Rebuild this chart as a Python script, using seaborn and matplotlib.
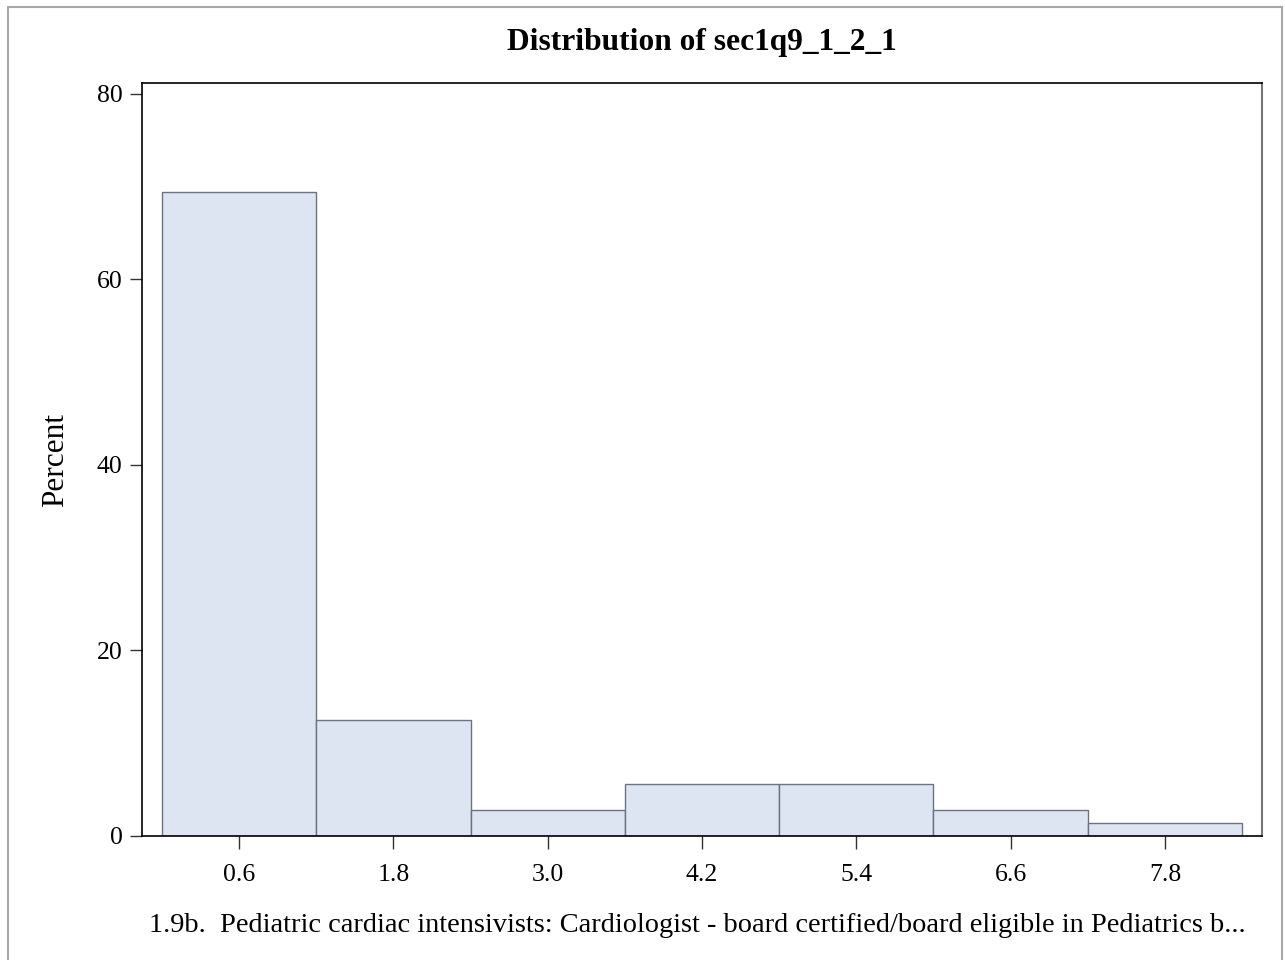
import numpy as np
import pandas as pd
import seaborn as sns
import matplotlib.pyplot as plt
from matplotlib.patches import Rectangle

# histogram (percent of respondents per bin)
bin_centers = [0.6, 1.8, 3.0, 4.2, 5.4, 6.6, 7.8]
percents = [69.44, 12.50, 2.78, 5.56, 5.56, 2.78, 1.39]
y_ticks = [0, 20, 40, 60, 80]
bin_width = 1.2

title = "Distribution of sec1q9_1_2_1"
x_label = ("1.9b.  Pediatric cardiac intensivists: Cardiologist - board "
           "certified/board eligible in Pediatrics b...")

sns.set_style("ticks")
plt.rcParams["font.family"] = ["Liberation Serif", "DejaVu Serif"]
plt.rcParams["text.color"] = "black"
plt.rcParams["axes.labelcolor"] = "black"

df = pd.DataFrame({"value": bin_centers, "pct": percents})
lo = bin_centers[0] - bin_width / 2
hi = bin_centers[-1] + bin_width / 2

fig = plt.figure(figsize=(12.85, 9.6), dpi=100)
ax = fig.add_axes([0.1105, 0.1292, 0.8716, 0.7840])

sns.histplot(data=df, x="value", weights="pct", binwidth=bin_width,
             binrange=(lo, hi), ax=ax,
             color="#DCE5F1", edgecolor="#6B7280", linewidth=1.0, alpha=1)

ax.set_xlim(-0.155, 8.555)
ax.set_ylim(0, 81.1)
ax.set_xticks(bin_centers)
ax.set_xticklabels([f"{c:.1f}" for c in bin_centers])
ax.set_yticks(y_ticks)

ax.tick_params(axis="both", direction="out", length=9, width=1.0,
               color="#333333", labelcolor="black", labelsize=18.5)
ax.tick_params(axis="x", pad=11)
ax.tick_params(axis="y", pad=5)

for side in ["left", "bottom", "top"]:
    ax.spines[side].set_color("black")
    ax.spines[side].set_linewidth(1.2)
ax.spines["right"].set_color("#777777")
ax.spines["right"].set_linewidth(1.5)

ax.set_ylabel("Percent", fontsize=22.5, labelpad=19)
ax.set_xlabel(x_label, fontsize=20.4)
ax.xaxis.set_label_coords(0.496, -0.102)
ax.set_title(title, fontsize=22.6, fontweight="bold", pad=24)

# light grey border round the whole picture
fig.patches.append(Rectangle((8 / 1285, -0.02), 1274 / 1285, 1.0127,
                             transform=fig.transFigure, fill=False,
                             edgecolor="#A8A8A8", linewidth=1.5))

fig.savefig("out.png", dpi=100)
